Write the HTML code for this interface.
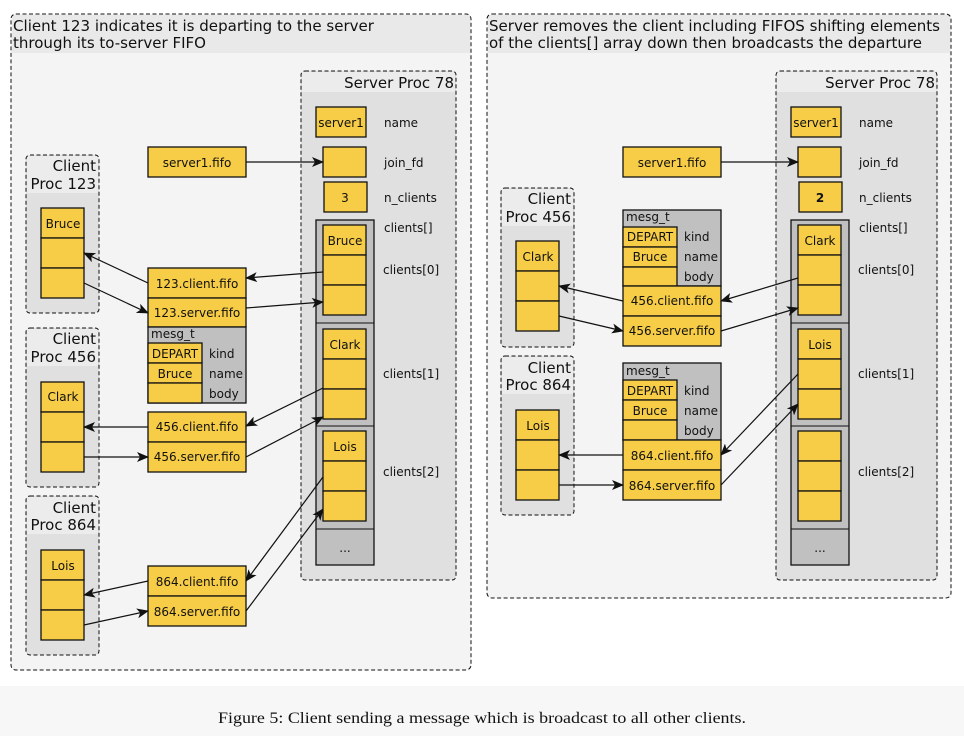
<!DOCTYPE html>
<html><head><meta charset="utf-8"><style>
html,body{margin:0;padding:0;background:#fff;}
svg{display:block;}
text{font-family:"DejaVu Sans","Liberation Sans",sans-serif;fill:#111;}
.t{font-size:15px;}
.s{font-size:12px;}
.y{fill:#f7cd47;stroke:#111;stroke-width:1.3;}
.g{fill:#c0c0c0;stroke:#111;stroke-width:1.3;}
.d{fill:none;stroke:#111;stroke-width:1;stroke-dasharray:4,2.5;}
.a{stroke:#111;stroke-width:1.2;fill:none;marker-end:url(#ar);}
</style></head><body>
<svg width="964" height="736" viewBox="0 0 964 736" xmlns="http://www.w3.org/2000/svg">
<defs><marker id="ar" viewBox="0 0 12 10" refX="11" refY="5" markerWidth="12" markerHeight="10" markerUnits="userSpaceOnUse" orient="auto"><path d="M0,0 L12,5 L0,10 L3,5 Z" fill="#111"/></marker></defs>
<rect x="0" y="0" width="964" height="686" fill="#fff"/>
<rect x="0" y="686" width="964" height="50" fill="#f7f7f7"/>
<text x="482" y="723" text-anchor="middle" style="font-family:'Liberation Serif',serif;font-size:16px" textLength="528" lengthAdjust="spacingAndGlyphs">Figure 5: Client sending a message which is broadcast to all other clients.</text>

<!-- LEFT PANEL -->
<rect x="11" y="14" width="460" height="656" rx="5" fill="#f4f4f4"/>
<rect x="12" y="15" width="458" height="38" fill="#e9e9e9"/>
<rect x="11" y="14" width="460" height="656" rx="5" class="d"/>
<text x="13" y="31" class="t" textLength="361" lengthAdjust="spacingAndGlyphs">Client 123 indicates it is departing to the server</text>
<text x="13" y="48" class="t" textLength="193" lengthAdjust="spacingAndGlyphs">through its to-server FIFO</text>

<!-- server left -->
<rect x="301" y="71" width="155" height="509" rx="4" fill="#e0e0e0"/>
<rect x="302" y="72" width="153" height="20" fill="#ececec"/>
<rect x="301" y="71" width="155" height="509" rx="4" class="d"/>
<text x="454" y="88" class="t" text-anchor="end">Server Proc 78</text>
<rect x="316" y="107" width="50" height="30" class="y"/><text x="341" y="127" class="s" text-anchor="middle">server1</text>
<text x="384" y="127" class="s">name</text>
<rect x="323" y="147" width="43" height="30" class="y"/><text x="384" y="167" class="s">join_fd</text>
<rect x="324" y="182" width="43" height="30" class="y"/><text x="345" y="202" class="s" text-anchor="middle">3</text><text x="384" y="202" class="s">n_clients</text>
<rect x="316" y="220" width="58" height="345" class="g"/>
<line x1="316" y1="323" x2="374" y2="323" stroke="#111"/>
<line x1="316" y1="426" x2="374" y2="426" stroke="#111"/>
<line x1="316" y1="529" x2="374" y2="529" stroke="#111"/>
<text x="345" y="552" class="s" text-anchor="middle">...</text>
<rect x="323" y="225" width="43" height="30" class="y"/><rect x="323" y="255" width="43" height="30" class="y"/><rect x="323" y="285" width="43" height="30" class="y"/>
<text x="345" y="245" class="s" text-anchor="middle">Bruce</text>
<rect x="323" y="329" width="43" height="30" class="y"/><rect x="323" y="359" width="43" height="30" class="y"/><rect x="323" y="389" width="43" height="30" class="y"/>
<text x="345" y="349" class="s" text-anchor="middle">Clark</text>
<rect x="323" y="431" width="43" height="30" class="y"/><rect x="323" y="461" width="43" height="30" class="y"/><rect x="323" y="491" width="43" height="30" class="y"/>
<text x="345" y="451" class="s" text-anchor="middle">Lois</text>
<text x="384" y="232" class="s">clients[]</text>
<text x="383" y="274" class="s">clients[0]</text>
<text x="383" y="378" class="s">clients[1]</text>
<text x="383" y="476" class="s">clients[2]</text>

<rect x="148" y="147" width="98" height="30" class="y"/><text x="197" y="167" class="s" text-anchor="middle">server1.fifo</text>

<!-- clients left -->
<g>
<rect x="26" y="155" width="73" height="158" rx="4" fill="#e0e0e0"/><rect x="27" y="156" width="71" height="37" fill="#ececec"/><rect x="26" y="155" width="73" height="158" rx="4" class="d"/>
<text x="96" y="171" class="t" text-anchor="end">Client</text><text x="96" y="189" class="t" text-anchor="end">Proc 123</text>
<rect x="41" y="208" width="43" height="30" class="y"/><rect x="41" y="238" width="43" height="30" class="y"/><rect x="41" y="268" width="43" height="30" class="y"/>
<text x="63" y="228" class="s" text-anchor="middle">Bruce</text>
</g>
<g>
<rect x="26" y="328" width="73" height="159" rx="4" fill="#e0e0e0"/><rect x="27" y="329" width="71" height="37" fill="#ececec"/><rect x="26" y="328" width="73" height="159" rx="4" class="d"/>
<text x="96" y="344" class="t" text-anchor="end">Client</text><text x="96" y="362" class="t" text-anchor="end">Proc 456</text>
<rect x="41" y="382" width="43" height="30" class="y"/><rect x="41" y="412" width="43" height="30" class="y"/><rect x="41" y="442" width="43" height="30" class="y"/>
<text x="63" y="401" class="s" text-anchor="middle">Clark</text>
</g>
<g>
<rect x="26" y="496" width="73" height="159" rx="4" fill="#e0e0e0"/><rect x="27" y="497" width="71" height="37" fill="#ececec"/><rect x="26" y="496" width="73" height="159" rx="4" class="d"/>
<text x="96" y="513" class="t" text-anchor="end">Client</text><text x="96" y="530" class="t" text-anchor="end">Proc 864</text>
<rect x="41" y="550" width="43" height="30" class="y"/><rect x="41" y="580" width="43" height="30" class="y"/><rect x="41" y="610" width="43" height="30" class="y"/>
<text x="63" y="570" class="s" text-anchor="middle">Lois</text>
</g>

<!-- fifos left -->
<rect x="148" y="268" width="98" height="30" class="y"/><text x="197" y="288" class="s" text-anchor="middle">123.client.fifo</text>
<rect x="148" y="298" width="98" height="29" class="y"/><text x="197" y="317" class="s" text-anchor="middle">123.server.fifo</text>
<rect x="148" y="327" width="98" height="76" class="g"/><text x="151" y="338" class="s">mesg_t</text>
<rect x="148" y="343" width="54" height="20" class="y"/><rect x="148" y="363" width="54" height="20" class="y"/><rect x="148" y="383" width="54" height="20" class="y"/>
<text x="175" y="358" class="s" text-anchor="middle">DEPART</text><text x="175" y="378" class="s" text-anchor="middle">Bruce</text>
<text x="209" y="358" class="s">kind</text><text x="209" y="378" class="s">name</text><text x="209" y="398" class="s">body</text>
<rect x="148" y="412" width="98" height="30" class="y"/><text x="197" y="431" class="s" text-anchor="middle">456.client.fifo</text>
<rect x="148" y="442" width="98" height="30" class="y"/><text x="197" y="461" class="s" text-anchor="middle">456.server.fifo</text>
<rect x="148" y="566" width="98" height="30" class="y"/><text x="197" y="586" class="s" text-anchor="middle">864.client.fifo</text>
<rect x="148" y="596" width="98" height="30" class="y"/><text x="197" y="616" class="s" text-anchor="middle">864.server.fifo</text>

<!-- arrows left -->
<path class="a" d="M246,162 L323,162"/>
<path class="a" d="M148,283 L84,253"/>
<path class="a" d="M84,283 L148,313"/>
<path class="a" d="M323,272 L246,278"/>
<path class="a" d="M246,308 L323,302"/>
<path class="a" d="M148,427 L84,427"/>
<path class="a" d="M84,457 L148,457"/>
<path class="a" d="M323,388 L246,426"/>
<path class="a" d="M246,457 L323,417"/>
<path class="a" d="M148,581 L84,595"/>
<path class="a" d="M84,625 L148,611"/>
<path class="a" d="M323,477 L246,581"/>
<path class="a" d="M246,611 L323,509"/>

<!-- RIGHT PANEL -->
<rect x="487" y="14" width="464" height="584" rx="5" fill="#f4f4f4"/>
<rect x="488" y="15" width="462" height="38" fill="#e9e9e9"/>
<rect x="487" y="14" width="464" height="584" rx="5" class="d"/>
<text x="489" y="31" class="t" textLength="451" lengthAdjust="spacingAndGlyphs">Server removes the client including FIFOS shifting elements</text>
<text x="489" y="48" class="t" textLength="433" lengthAdjust="spacingAndGlyphs">of the clients[] array down then broadcasts the departure</text>

<rect x="776" y="71" width="161" height="509" rx="4" fill="#e0e0e0"/>
<rect x="777" y="72" width="159" height="20" fill="#ececec"/>
<rect x="776" y="71" width="161" height="509" rx="4" class="d"/>
<text x="935" y="88" class="t" text-anchor="end">Server Proc 78</text>
<rect x="791" y="107" width="50" height="30" class="y"/><text x="816" y="127" class="s" text-anchor="middle">server1</text>
<text x="859" y="127" class="s">name</text>
<rect x="798" y="147" width="43" height="30" class="y"/><text x="859" y="167" class="s">join_fd</text>
<rect x="799" y="182" width="43" height="30" class="y"/><text x="820" y="202" class="s" text-anchor="middle" font-weight="bold">2</text><text x="859" y="202" class="s">n_clients</text>
<rect x="791" y="220" width="58" height="345" class="g"/>
<line x1="791" y1="323" x2="849" y2="323" stroke="#111"/>
<line x1="791" y1="426" x2="849" y2="426" stroke="#111"/>
<line x1="791" y1="529" x2="849" y2="529" stroke="#111"/>
<text x="820" y="552" class="s" text-anchor="middle">...</text>
<rect x="798" y="225" width="43" height="30" class="y"/><rect x="798" y="255" width="43" height="30" class="y"/><rect x="798" y="285" width="43" height="30" class="y"/>
<text x="820" y="245" class="s" text-anchor="middle">Clark</text>
<rect x="798" y="329" width="43" height="30" class="y"/><rect x="798" y="359" width="43" height="30" class="y"/><rect x="798" y="389" width="43" height="30" class="y"/>
<text x="820" y="349" class="s" text-anchor="middle">Lois</text>
<rect x="798" y="431" width="43" height="30" class="y"/><rect x="798" y="461" width="43" height="30" class="y"/><rect x="798" y="491" width="43" height="30" class="y"/>
<text x="859" y="232" class="s">clients[]</text>
<text x="858" y="274" class="s">clients[0]</text>
<text x="858" y="378" class="s">clients[1]</text>
<text x="858" y="476" class="s">clients[2]</text>

<rect x="623" y="147" width="98" height="30" class="y"/><text x="672" y="167" class="s" text-anchor="middle">server1.fifo</text>

<g>
<rect x="501" y="188" width="73" height="159" rx="4" fill="#e0e0e0"/><rect x="502" y="189" width="71" height="37" fill="#ececec"/><rect x="501" y="188" width="73" height="159" rx="4" class="d"/>
<text x="571" y="204" class="t" text-anchor="end">Client</text><text x="571" y="222" class="t" text-anchor="end">Proc 456</text>
<rect x="516" y="241" width="43" height="30" class="y"/><rect x="516" y="271" width="43" height="30" class="y"/><rect x="516" y="301" width="43" height="30" class="y"/>
<text x="538" y="261" class="s" text-anchor="middle">Clark</text>
</g>
<g>
<rect x="501" y="356" width="73" height="159" rx="4" fill="#e0e0e0"/><rect x="502" y="357" width="71" height="37" fill="#ececec"/><rect x="501" y="356" width="73" height="159" rx="4" class="d"/>
<text x="571" y="373" class="t" text-anchor="end">Client</text><text x="571" y="390" class="t" text-anchor="end">Proc 864</text>
<rect x="516" y="410" width="43" height="30" class="y"/><rect x="516" y="440" width="43" height="30" class="y"/><rect x="516" y="470" width="43" height="30" class="y"/>
<text x="538" y="430" class="s" text-anchor="middle">Lois</text>
</g>

<rect x="623" y="210" width="98" height="76" class="g"/><text x="626" y="221" class="s">mesg_t</text>
<rect x="623" y="227" width="54" height="20" class="y"/><rect x="623" y="247" width="54" height="20" class="y"/><rect x="623" y="267" width="54" height="19" class="y"/>
<text x="650" y="241" class="s" text-anchor="middle">DEPART</text><text x="650" y="261" class="s" text-anchor="middle">Bruce</text>
<text x="684" y="241" class="s">kind</text><text x="684" y="261" class="s">name</text><text x="684" y="281" class="s">body</text>
<rect x="623" y="286" width="98" height="30" class="y"/><text x="672" y="305" class="s" text-anchor="middle">456.client.fifo</text>
<rect x="623" y="316" width="98" height="30" class="y"/><text x="672" y="335" class="s" text-anchor="middle">456.server.fifo</text>

<rect x="623" y="363" width="98" height="77" class="g"/><text x="626" y="375" class="s">mesg_t</text>
<rect x="623" y="380" width="54" height="20" class="y"/><rect x="623" y="400" width="54" height="20" class="y"/><rect x="623" y="420" width="54" height="20" class="y"/>
<text x="650" y="395" class="s" text-anchor="middle">DEPART</text><text x="650" y="415" class="s" text-anchor="middle">Bruce</text>
<text x="684" y="395" class="s">kind</text><text x="684" y="415" class="s">name</text><text x="684" y="435" class="s">body</text>
<rect x="623" y="440" width="98" height="30" class="y"/><text x="672" y="460" class="s" text-anchor="middle">864.client.fifo</text>
<rect x="623" y="470" width="98" height="30" class="y"/><text x="672" y="490" class="s" text-anchor="middle">864.server.fifo</text>

<path class="a" d="M721,162 L798,162"/>
<path class="a" d="M623,301 L559,286"/>
<path class="a" d="M559,316 L623,331"/>
<path class="a" d="M798,278 L721,301"/>
<path class="a" d="M721,331 L798,308"/>
<path class="a" d="M623,455 L559,455"/>
<path class="a" d="M559,485 L623,485"/>
<path class="a" d="M798,374 L721,455"/>
<path class="a" d="M721,485 L798,404"/>
</svg>
</body></html>
